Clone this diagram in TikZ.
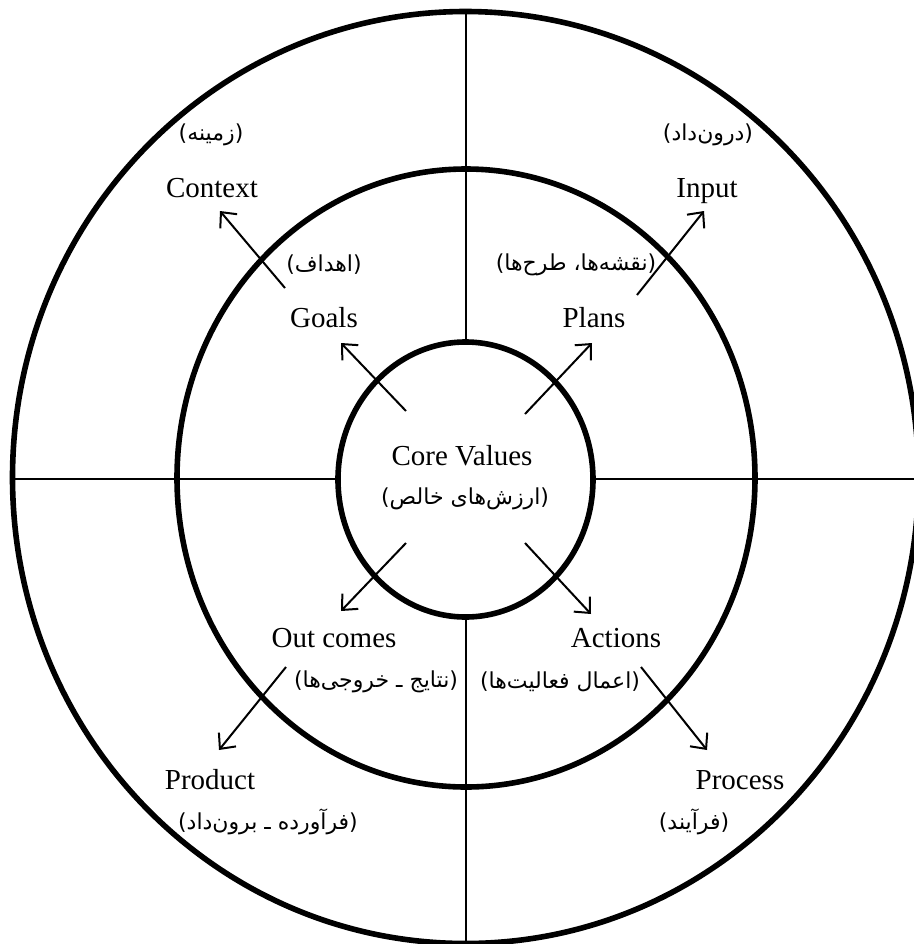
\documentclass[tikz,border=0pt]{standalone}
\usepackage{fontspec}
\setmainfont{Liberation Serif}
\newfontfamily\farsi[Script=Arabic]{DejaVu Sans}
\TeXXeTstate=1
\usetikzlibrary{arrows.meta}
\tikzset{
  >={Straight Barb[length=6pt,width=11pt]},
  ring/.style ={line width=2.8pt},
  axis/.style ={line width=1pt},
  ar/.style   ={->,line width=1pt},
  en/.style   ={font=\fontsize{14.5}{16}\selectfont,inner sep=0pt,anchor=base},
  fa/.style   ={font=\farsi\fontsize{11}{13}\selectfont,inner sep=0pt},
}
\newcommand{\rtl}[1]{\beginR #1\endR}

\begin{document}
\begin{tikzpicture}[x=0.5pt,y=-0.5pt]
\useasboundingbox (0,0) rectangle (914,944);
% rings and quadrant lines
\draw[ring] (465.5,477.5) ellipse [x radius=453, y radius=466];
\draw[ring] (466,478) ellipse [x radius=289, y radius=309];
\draw[ring] (465.5,479.5) ellipse [x radius=127.5, y radius=137.5];
\draw[axis] (465.5,11.5) -- (465.5,342);
\draw[axis] (465.5,617) -- (465.5,944);
\draw[axis] (12.5,479) -- (338,479);
\draw[axis] (593,479) -- (914,479);

% labels
\node[en] (core)   at (462,465) {Core Values};
\node[fa] (corefa) at (465,499) {\rtl{(ارزش‌های خالص)}};

\node[en] (goals)   at (324,327) {Goals};
\node[fa] (goalsfa) at (324,265) {\rtl{(اهداف)}};
\node[en] (plans)   at (594,327) {Plans};
\node[fa] (plansfa) at (576,265) {\rtl{(نقشه‌ها، طرح‌ها)}};
\node[en] (outc)    at (334,647) {Out comes};
\node[fa] (outcfa)  at (376,682) {\rtl{(نتایج ـ خروجی‌ها)}};
\node[en] (acts)    at (616,647) {Actions};
\node[fa] (actsfa)  at (560,682) {\rtl{(اعمال فعالیت‌ها)}};

\node[en] (ctx)     at (212,197.5) {Context};
\node[fa] (ctxfa)   at (211,135) {\rtl{(زمینه)}};
\node[en] (inp)     at (707,197.5) {Input};
\node[fa] (inpfa)   at (708,135) {\rtl{(درون‌داد)}};
\node[en] (prod)    at (210,789) {Product};
\node[fa] (prodfa)  at (268,822) {\rtl{(فرآورده ـ برون‌داد)}};
\node[en] (proc)    at (740,789) {Process};
\node[fa] (procfa)  at (694,822) {\rtl{(فرآیند)}};

% arrow ends
\coordinate (g0) at (406,411);   \coordinate (g1) at (341,343);
\coordinate (p0) at (525,414);   \coordinate (p1) at (592,343);
\coordinate (o0) at (406,543);   \coordinate (o1) at (341,611);
\coordinate (a0) at (525,543);   \coordinate (a1) at (591,614);
\coordinate (c0) at (285,288);   \coordinate (c1) at (220,211);
\coordinate (i0) at (637,295);   \coordinate (i1) at (704,211);
\coordinate (d0) at (286,667);   \coordinate (d1) at (219,750);
\coordinate (s0) at (641,667);   \coordinate (s1) at (707,750);

\draw[ar] (g0) -- (g1);
\draw[ar] (p0) -- (p1);
\draw[ar] (o0) -- (o1);
\draw[ar] (a0) -- (a1);
\draw[ar] (c0) -- (c1);
\draw[ar] (i0) -- (i1);
\draw[ar] (d0) -- (d1);
\draw[ar] (s0) -- (s1);
\end{tikzpicture}
\end{document}
